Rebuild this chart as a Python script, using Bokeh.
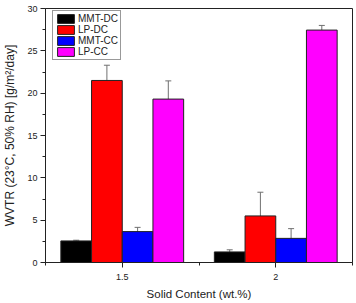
from bokeh.plotting import figure
from bokeh.models import ColumnDataSource, Whisker, FixedTicker, Range1d, Legend, LegendItem, TeeHead
from bokeh.embed import file_html
from bokeh.resources import INLINE

groups = [1.5, 2.0]
series = ["MMT-DC", "LP-DC", "MMT-CC", "LP-CC"]
colors = ["#000000", "#ff0000", "#0000ff", "#ff00ff"]
values = {
    "MMT-DC": [2.55, 1.25],
    "LP-DC": [21.5, 5.5],
    "MMT-CC": [3.65, 2.85],
    "LP-CC": [19.3, 27.45],
}
errors = {
    "MMT-DC": [0.08, 0.25],
    "LP-DC": [1.8, 2.8],
    "MMT-CC": [0.5, 1.15],
    "LP-CC": [2.15, 0.55],
}
y_ticks = [0, 5, 10, 15, 20, 25, 30]
x_tick_labels = {1.5: "1.5", 2.0: "2"}

FONT = "Liberation Sans"
bar_w = 0.1
offsets = [(-1.5 + i) * bar_w for i in range(len(series))]

p = figure(width=356, height=303, output_backend="svg", toolbar_location=None,
           x_range=Range1d(1.25, 2.25), y_range=Range1d(0, 30),
           min_border_left=42, min_border_right=4, min_border_top=8, min_border_bottom=41)
p.background_fill_color = "white"
p.border_fill_color = "white"
p.outline_line_color = "#222222"
p.outline_line_width = 1
p.xgrid.visible = False
p.ygrid.visible = False

items = []
for s, c, off in zip(series, colors, offsets):
    xs = [g + off for g in groups]
    src = ColumnDataSource(dict(x=xs, top=values[s],
                                upper=[v + e for v, e in zip(values[s], errors[s])],
                                lower=[v - e for v, e in zip(values[s], errors[s])]))
    r = p.vbar(x="x", top="top", width=bar_w, bottom=0, source=src,
               fill_color=c, line_color="#222222", line_width=1)
    items.append(LegendItem(label=s, renderers=[r]))
    w = Whisker(base="x", upper="upper", lower="lower", source=src,
                line_color="#707070", line_width=1,
                upper_head=TeeHead(size=6, line_color="#707070", line_width=1),
                lower_head=TeeHead(size=6, line_color="#707070", line_width=1))
    p.add_layout(w)

legend = Legend(items=items, location=(7, 202))
legend.glyph_width = 21
legend.glyph_height = 11
legend.label_height = 11
legend.spacing = 0
legend.padding = 2
legend.margin = 0
legend.label_standoff = 2
legend.label_text_font = FONT
legend.label_text_font_size = "10px"
legend.label_text_color = "#222222"
legend.border_line_color = "#333333"
legend.border_line_width = 1
legend.background_fill_alpha = 1
p.add_layout(legend, "center")

p.xaxis.ticker = FixedTicker(ticks=groups, minor_ticks=[1.25, 1.75, 2.25])
p.xaxis.major_label_overrides = x_tick_labels
p.yaxis.ticker = FixedTicker(ticks=y_ticks, minor_ticks=[2.5, 7.5, 12.5, 17.5, 22.5, 27.5])

for ax in [p.xaxis[0], p.yaxis[0]]:
    ax.axis_line_color = "#222222"
    ax.major_tick_line_color = "#222222"
    ax.minor_tick_line_color = "#222222"
    ax.major_tick_in = 0
    ax.major_tick_out = 5
    ax.minor_tick_in = 0
    ax.minor_tick_out = 3
    ax.major_label_text_font = FONT
    ax.major_label_text_font_size = "9px"
    ax.major_label_text_color = "#222222"
    ax.axis_label_text_font = FONT
    ax.axis_label_text_font_style = "normal"
    ax.axis_label_text_color = "#222222"

p.xaxis.axis_label_text_font_size = "11.5px"
p.yaxis.axis_label_text_font_size = "12px"
p.xaxis.axis_label = "Solid Content (wt.%)"
p.yaxis.axis_label = "WVTR (23°C, 50% RH) [g/m²/day]"
p.xaxis.major_label_standoff = 6
p.xaxis.axis_label_standoff = 5
p.yaxis.major_label_standoff = 3
p.yaxis.axis_label_standoff = 7

open("out.html", "w").write(file_html(p, INLINE))
